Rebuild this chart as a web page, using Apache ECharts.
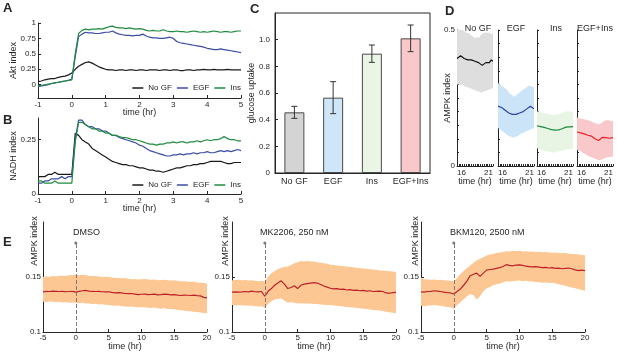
<!DOCTYPE html>
<html>
<head>
<meta charset="utf-8">
<script src="https://cdn.jsdelivr.net/npm/echarts@6/dist/echarts.min.js"></script>
<style>
  html, body { margin: 0; padding: 0; background: #fff; }
  #box { width: 617px; height: 354px; }
</style>
</head>
<body>
<div id="box"></div>
<script>
var FONT = '"Liberation Sans", Arial, Helvetica, sans-serif';
var INK = '#262626';

// ---- A / B : Akt index and NADH index, time in hours ----
var timeAB = [-1,-0.9,-0.8,-0.7,-0.6,-0.5,-0.4,-0.3,-0.2,-0.1,
  0,0.1,0.2,0.3,0.4,0.5,0.6,0.7,0.8,0.9,
  1,1.1,1.2,1.3,1.4,1.5,1.6,1.7,1.8,1.9,
  2,2.1,2.2,2.3,2.4,2.5,2.6,2.7,2.8,2.9,
  3,3.1,3.2,3.3,3.4,3.5,3.6,3.7,3.8,3.9,
  4,4.1,4.2,4.3,4.4,4.5,4.6,4.7,4.8,4.9,5];
var abNames = ['No GF', 'EGF', 'Ins'];
var abColors = ['#1a1a1a', '#3b4ea6', '#1f8c3f'];

var aktNoGF = [0.05,0.06,0.08,0.09,0.10,0.10,0.12,0.13,0.14,0.16,
  0.19,0.25,0.30,0.33,0.36,0.37,0.35,0.32,0.29,0.27,
  0.25,0.24,0.24,0.23,0.24,0.24,0.23,0.24,0.24,0.23,
  0.24,0.24,0.23,0.24,0.24,0.24,0.23,0.24,0.24,0.23,
  0.24,0.24,0.23,0.23,0.24,0.24,0.23,0.24,0.24,0.25,
  0.24,0.24,0.25,0.24,0.24,0.24,0.25,0.24,0.24,0.24,0.24];
var aktEGF = [-0.03,-0.02,-0.01,0.00,0.02,0.03,0.04,0.05,0.06,0.07,
  0.09,0.45,0.78,0.82,0.85,0.84,0.84,0.83,0.83,0.84,
  0.85,0.85,0.87,0.84,0.82,0.81,0.80,0.80,0.79,0.80,
  0.80,0.82,0.79,0.77,0.76,0.76,0.75,0.75,0.76,0.77,
  0.75,0.70,0.68,0.67,0.66,0.65,0.64,0.63,0.62,0.61,
  0.59,0.58,0.57,0.57,0.58,0.57,0.56,0.55,0.54,0.53,0.52];
var aktIns = [-0.02,-0.01,0.00,0.01,0.02,0.03,0.04,0.05,0.06,0.07,
  0.08,0.50,0.83,0.88,0.90,0.89,0.90,0.90,0.91,0.90,
  0.92,0.94,0.95,0.93,0.92,0.92,0.91,0.92,0.91,0.90,
  0.91,0.90,0.88,0.87,0.88,0.87,0.87,0.89,0.87,0.86,
  0.86,0.87,0.86,0.86,0.85,0.86,0.87,0.86,0.85,0.86,
  0.85,0.86,0.87,0.86,0.85,0.86,0.86,0.85,0.86,0.87,0.87];

var nadhNoGF = [0.08,0.08,0.08,0.09,0.09,0.10,0.09,0.09,0.09,0.09,
  0.09,0.28,0.27,0.25,0.24,0.23,0.21,0.20,0.19,0.18,
  0.17,0.16,0.15,0.145,0.14,0.135,0.135,0.13,0.13,0.125,
  0.12,0.12,0.115,0.11,0.11,0.105,0.105,0.10,0.105,0.11,
  0.115,0.12,0.12,0.125,0.13,0.13,0.135,0.135,0.14,0.14,
  0.145,0.15,0.15,0.15,0.15,0.145,0.14,0.14,0.145,0.145,0.145];
var nadhEGF = [0.05,0.05,0.06,0.06,0.07,0.07,0.07,0.08,0.07,0.08,
  0.08,0.25,0.34,0.34,0.32,0.31,0.31,0.30,0.30,0.29,
  0.29,0.28,0.27,0.27,0.26,0.255,0.25,0.245,0.24,0.235,
  0.225,0.22,0.21,0.20,0.195,0.19,0.185,0.18,0.175,0.175,
  0.18,0.18,0.185,0.18,0.185,0.185,0.19,0.185,0.19,0.19,
  0.195,0.19,0.19,0.195,0.20,0.195,0.20,0.195,0.20,0.205,0.20];
var nadhIns = [0.06,0.06,0.05,0.05,0.05,0.06,0.05,0.05,0.05,0.05,
  0.05,0.24,0.33,0.33,0.32,0.31,0.30,0.30,0.29,0.29,
  0.28,0.28,0.27,0.27,0.265,0.26,0.26,0.255,0.25,0.25,
  0.245,0.24,0.235,0.23,0.23,0.225,0.23,0.23,0.235,0.235,
  0.24,0.235,0.24,0.24,0.235,0.24,0.24,0.245,0.24,0.245,
  0.25,0.245,0.25,0.25,0.255,0.265,0.255,0.25,0.25,0.245,0.245];

// ---- C : glucose uptake ----
var glucoseCats = ['No GF', 'EGF', 'Ins', 'EGF+Ins'];
var glucoseMean = [0.455, 0.565, 0.895, 1.01];
var glucoseErr = [0.045, 0.12, 0.065, 0.10];
var glucoseColors = ['#d4d4d4', '#cfe6f8', '#eaf5e6', '#f8c8ca'];

// ---- D : AMPK index 16-21 hr ----
var timeD = [16,16.25,16.5,16.75,17,17.25,17.5,17.75,18,18.25,18.5,18.75,19,19.25,19.5,19.75,20,20.25,20.5,20.75,21];
var dTitles = ['No GF', 'EGF', 'Ins', 'EGF+Ins'];
var dLineColors = ['#111111', '#2e44a0', '#1a8a3e', '#e4232b'];
var dBandColors = ['#dedede', '#cbe4f8', '#e8f4e4', '#f8c8cb'];

var ampkNoGF   = [0.395,0.40,0.405,0.40,0.395,0.39,0.39,0.385,0.39,0.39,0.385,0.385,0.38,0.375,0.37,0.375,0.38,0.385,0.38,0.39,0.385];
var ampkNoGFHi = [0.50,0.50,0.50,0.50,0.495,0.49,0.49,0.485,0.48,0.475,0.47,0.475,0.47,0.48,0.485,0.49,0.49,0.49,0.49,0.485,0.485];
var ampkNoGFLo = [0.30,0.30,0.295,0.30,0.295,0.29,0.29,0.285,0.285,0.28,0.28,0.275,0.275,0.27,0.27,0.275,0.275,0.28,0.28,0.285,0.285];
var ampkEGF    = [0.22,0.22,0.215,0.21,0.205,0.20,0.195,0.19,0.19,0.185,0.19,0.19,0.195,0.19,0.20,0.20,0.21,0.215,0.22,0.215,0.21];
var ampkEGFHi  = [0.305,0.30,0.295,0.29,0.285,0.28,0.27,0.265,0.26,0.255,0.26,0.265,0.27,0.275,0.28,0.285,0.29,0.295,0.295,0.29,0.29];
var ampkEGFLo  = [0.14,0.135,0.13,0.125,0.12,0.115,0.11,0.108,0.105,0.105,0.108,0.11,0.115,0.12,0.12,0.125,0.13,0.13,0.135,0.138,0.138];
var ampkIns    = [0.148,0.147,0.145,0.143,0.142,0.14,0.138,0.136,0.134,0.133,0.132,0.134,0.133,0.135,0.137,0.14,0.143,0.145,0.144,0.146,0.145];
var ampkInsHi  = [0.2,0.2,0.198,0.195,0.195,0.193,0.19,0.19,0.188,0.187,0.188,0.19,0.19,0.192,0.195,0.197,0.2,0.2,0.2,0.2,0.2];
var ampkInsLo  = [0.065,0.063,0.06,0.058,0.056,0.055,0.053,0.052,0.05,0.05,0.05,0.052,0.053,0.055,0.056,0.058,0.06,0.062,0.062,0.063,0.063];
var ampkBoth   = [0.125,0.125,0.122,0.12,0.118,0.116,0.113,0.112,0.11,0.106,0.10,0.096,0.094,0.095,0.105,0.108,0.104,0.102,0.102,0.103,0.104];
var ampkBothHi = [0.178,0.176,0.175,0.174,0.172,0.17,0.168,0.166,0.164,0.16,0.158,0.155,0.153,0.155,0.16,0.165,0.168,0.168,0.167,0.165,0.165];
var ampkBothLo = [0.06,0.058,0.055,0.05,0.046,0.042,0.038,0.035,0.032,0.03,0.027,0.024,0.022,0.022,0.025,0.028,0.03,0.032,0.033,0.034,0.035];

// ---- E : AMPK index after drug, -5..20 hr ----
var timeE = [-5,-4.5,-4,-3.5,-3,-2.5,-2,-1.5,-1,-0.5,
  0,0.5,1,1.5,2,2.5,3,3.5,4,4.5,
  5,5.5,6,6.5,7,7.5,8,8.5,9,9.5,
  10,10.5,11,11.5,12,12.5,13,13.5,14,14.5,
  15,15.5,16,16.5,17,17.5,18,18.5,19,19.5,20];
var eLabels = ['DMSO', 'MK2206, 250 nM', 'BKM120, 2500 nM'];
var treatTime = 0;
var markerTop = 0.181;

var dmso = [0.1365,0.137,0.1368,0.1372,0.137,0.1368,0.137,0.1366,0.1368,0.137,
  0.1362,0.137,0.1375,0.1378,0.1372,0.137,0.1368,0.137,0.1366,0.1364,
  0.1366,0.136,0.1356,0.1358,0.1355,0.135,0.1348,0.135,0.1345,0.134,
  0.1343,0.1345,0.134,0.1342,0.1345,0.1338,0.134,0.1345,0.1342,0.1338,
  0.134,0.1335,0.1332,0.1335,0.1334,0.1332,0.1336,0.133,0.1328,0.1315,0.131];
var dmsoHi = [0.150,0.1505,0.1502,0.151,0.1505,0.1508,0.1512,0.151,0.1515,0.1518,
  0.152,0.1515,0.152,0.1518,0.151,0.1508,0.151,0.1505,0.150,0.1502,
  0.150,0.1495,0.1492,0.149,0.1488,0.149,0.1485,0.148,0.1482,0.1478,
  0.148,0.1482,0.1478,0.1475,0.1478,0.147,0.1472,0.1475,0.147,0.1468,
  0.147,0.1465,0.146,0.1462,0.1458,0.1455,0.1458,0.145,0.1448,0.1445,0.1442];
var dmsoLo = [0.1275,0.1272,0.1278,0.1274,0.127,0.1272,0.1268,0.127,0.1266,0.1268,
  0.1265,0.1262,0.1265,0.126,0.1258,0.1255,0.1256,0.125,0.1252,0.1248,
  0.1245,0.1242,0.1238,0.124,0.1235,0.1232,0.123,0.1232,0.1228,0.1225,
  0.1224,0.1226,0.122,0.1218,0.1222,0.1215,0.1212,0.1215,0.121,0.1208,
  0.1206,0.12,0.1198,0.1195,0.119,0.1188,0.1185,0.1182,0.1178,0.1172,0.117];

var mk = [0.1362,0.1365,0.1363,0.1365,0.1368,0.1365,0.1372,0.1366,0.1364,0.1368,
  0.1325,0.137,0.1395,0.1425,0.1445,0.1465,0.1435,0.1395,0.1405,0.142,
  0.1395,0.1425,0.1435,0.144,0.1445,0.1448,0.1445,0.1432,0.1418,0.1408,
  0.1398,0.1392,0.1395,0.1388,0.139,0.1382,0.1385,0.1378,0.138,0.1375,
  0.1378,0.1372,0.1375,0.1368,0.137,0.1372,0.1368,0.1355,0.1352,0.1358,0.136];
var mkHi = [0.147,0.1472,0.1475,0.147,0.1472,0.1468,0.147,0.1465,0.1462,0.1465,
  0.146,0.1505,0.1535,0.1555,0.157,0.1585,0.159,0.1595,0.161,0.1625,
  0.1635,0.1645,0.1642,0.1645,0.164,0.1642,0.1635,0.163,0.1625,0.162,
  0.1612,0.161,0.1605,0.16,0.1598,0.1595,0.159,0.1588,0.1585,0.158,
  0.1578,0.1575,0.157,0.1568,0.1565,0.156,0.1558,0.1555,0.1552,0.155,0.1545];
var mkLo = [0.1245,0.1242,0.1245,0.124,0.1242,0.1238,0.124,0.1235,0.1232,0.1235,
  0.122,0.1255,0.128,0.1295,0.13,0.1305,0.1285,0.1265,0.127,0.1265,
  0.126,0.1262,0.1258,0.126,0.1258,0.1255,0.1255,0.125,0.1248,0.1245,
  0.1245,0.124,0.1238,0.1235,0.1232,0.1228,0.1225,0.1222,0.1218,0.1215,
  0.1212,0.121,0.1205,0.12,0.1198,0.1195,0.119,0.1185,0.118,0.1175,0.117];

var bkm = [0.1365,0.1362,0.1368,0.137,0.1375,0.1372,0.1368,0.1362,0.1358,0.1355,
  0.1345,0.1368,0.139,0.1425,0.1462,0.1512,0.1525,0.1535,0.1505,0.1535,
  0.1562,0.1568,0.1572,0.1578,0.1585,0.1595,0.1612,0.1605,0.1602,0.1608,
  0.161,0.1605,0.1598,0.1595,0.1592,0.1595,0.159,0.1585,0.1588,0.1582,
  0.1585,0.1578,0.158,0.1575,0.1578,0.1582,0.1575,0.1565,0.1558,0.1562,0.1558];
var bkmHi = [0.1495,0.148,0.1478,0.1475,0.1478,0.1472,0.1475,0.147,0.1468,0.1465,
  0.1462,0.149,0.1525,0.1555,0.158,0.1605,0.163,0.165,0.1665,0.168,
  0.1695,0.1705,0.171,0.1718,0.1722,0.1728,0.1735,0.1732,0.1738,0.1735,
  0.1738,0.1732,0.1735,0.173,0.1732,0.1728,0.173,0.1725,0.1728,0.1722,
  0.172,0.1722,0.1718,0.1715,0.1718,0.1712,0.171,0.1708,0.1705,0.17,0.1698];
var bkmLo = [0.1238,0.1235,0.124,0.1242,0.1245,0.1242,0.1238,0.1232,0.1228,0.1225,
  0.1212,0.1245,0.127,0.1298,0.1325,0.1345,0.1335,0.1295,0.1325,0.137,
  0.1395,0.141,0.1425,0.1435,0.1442,0.145,0.1462,0.1458,0.1462,0.1465,
  0.1468,0.1462,0.1465,0.146,0.1458,0.1455,0.1452,0.1448,0.145,0.1445,
  0.1448,0.144,0.1435,0.1428,0.142,0.1412,0.1405,0.1398,0.139,0.1382,0.1375];

// ---------------------------------------------------------------
var box = document.getElementById('box');
var myChart = echarts.init(box, null, { renderer: 'canvas' });

function pairs(xs, ys) {
  return xs.map(function (x, i) { return [x, ys[i]]; });
}

function extend(a, b) {
  for (var k in b) {
    if (b[k] && typeof b[k] === 'object' && !Array.isArray(b[k]) && a[k] && typeof a[k] === 'object') {
      extend(a[k], b[k]);
    } else {
      a[k] = b[k];
    }
  }
  return a;
}

function axisBase(g) {
  return {
    gridIndex: g, type: 'value',
    splitLine: { show: false },
    axisLine: { show: true, onZero: false, lineStyle: { color: INK, width: 1 } },
    axisTick: { show: true, inside: true, length: 3, lineStyle: { color: INK } },
    axisLabel: { fontFamily: FONT, fontSize: 8, color: INK, margin: 3 },
    nameLocation: 'middle',
    nameMoveOverlap: false,
    nameTextStyle: { fontFamily: FONT, fontSize: 9, color: INK }
  };
}

function lineSeries(name, g, xs, ys, color) {
  var s = {
    type: 'line', xAxisIndex: g, yAxisIndex: g,
    data: pairs(xs, ys), symbol: 'none', showSymbol: false,
    lineStyle: { color: color, width: 1.2 }, itemStyle: { color: color },
    silent: true, z: 3
  };
  if (name) s.name = name;
  return s;
}

// shaded band: one polygon through the upper edge and back along the lower edge
function bandSeries(g, xs, lo, hi, color) {
  return {
    type: 'custom', xAxisIndex: g, yAxisIndex: g, silent: true, z: 1,
    data: [[xs[0], lo[0]]],
    renderItem: function (params, api) {
      var pts = [];
      for (var i = 0; i < xs.length; i++) pts.push(api.coord([xs[i], hi[i]]));
      for (var j = xs.length - 1; j >= 0; j--) pts.push(api.coord([xs[j], lo[j]]));
      return { type: 'polygon', shape: { points: pts }, style: { fill: color } };
    }
  };
}

var dLefts = [457, 498, 537, 577];
var eLefts = [43, 232, 421];

var grids = [
  { left: 38, top: 23, width: 203, height: 75 },
  { left: 38, top: 118, width: 203, height: 76 },
  { left: 275, top: 13, width: 155, height: 160, show: true, borderColor: INK, borderWidth: 1, backgroundColor: '#fff' }
];
dLefts.forEach(function (l) { grids.push({ left: l, top: 30, width: 36, height: 136 }); });
eLefts.forEach(function (l) { grids.push({ left: l, top: 222, width: 164, height: 110 }); });

var xAxes = [
  extend(axisBase(0), { min: -1, max: 5, interval: 1, name: 'time (hr)', nameGap: 10 }),
  extend(axisBase(1), { min: -1, max: 5, interval: 1, name: 'time (hr)', nameGap: 10 }),
  extend(axisBase(2), { type: 'category', data: glucoseCats,
    axisTick: { alignWithLabel: true }, axisLabel: { fontSize: 9, margin: 4, interval: 0 } })
];
dLefts.forEach(function (l, i) {
  xAxes.push(extend(axisBase(3 + i), { min: 16, max: 21, interval: 0.25,
    axisTick: { length: 2 },
    axisLabel: { customValues: [16, 21], margin: 3, alignMinLabel: 'left', alignMaxLabel: 'right' },
    name: 'time (hr)', nameGap: 11 }));
});
eLefts.forEach(function (l, i) {
  xAxes.push(extend(axisBase(7 + i), { min: -5, max: 20, interval: 5,
    axisLabel: { margin: 2 }, name: 'time (hr)', nameGap: 10 }));
});

var aktTicks = [0, 0.25, 0.5, 0.75, 1];
var glucoseTicks = [0, 0.2, 0.4, 0.6, 0.8, 1.0];
var yAxes = [
  extend(axisBase(0), { min: -0.215, max: 1, axisLabel: { customValues: aktTicks, margin: 2 },
    axisTick: { customValues: aktTicks }, name: 'Akt index', nameGap: 20 }),
  extend(axisBase(1), { min: 0, max: 0.35, axisLabel: { customValues: [0, 0.25], margin: 2 },
    axisTick: { customValues: [0, 0.25] }, name: 'NADH index', nameGap: 20 }),
  extend(axisBase(2), { min: 0, max: 1.2,
    axisLabel: { customValues: glucoseTicks, margin: 5,
      formatter: function (v) { return v === 0 ? '0' : v.toFixed(1); } },
    axisTick: { customValues: glucoseTicks }, name: 'glucose uptake', nameGap: 19 })
];
dLefts.forEach(function (l, i) {
  var ax = extend(axisBase(3 + i), { min: 0, max: 0.5, interval: 0.05, axisTick: { length: 2 } });
  if (i === 0) {
    extend(ax, { axisLabel: { customValues: [0, 0.5], margin: 2 }, name: 'AMPK index', nameGap: 5 });
  } else {
    ax.axisLabel.show = false;
  }
  yAxes.push(ax);
});
eLefts.forEach(function (l, i) {
  yAxes.push(extend(axisBase(7 + i), { min: 0.1, max: 0.2,
    axisLabel: { customValues: [0.1, 0.15], margin: 2 },
    axisTick: { customValues: [0.1, 0.15] } }));
});

var series = [];
[aktNoGF, aktEGF, aktIns].forEach(function (ys, i) {
  series.push(lineSeries(abNames[i], 0, timeAB, ys, abColors[i]));
});
[nadhNoGF, nadhEGF, nadhIns].forEach(function (ys, i) {
  series.push(lineSeries(abNames[i], 1, timeAB, ys, abColors[i]));
});

series.push({
  type: 'bar', xAxisIndex: 2, yAxisIndex: 2, barWidth: 20, silent: true,
  data: glucoseMean.map(function (v, i) { return { value: v, itemStyle: { color: glucoseColors[i] } }; }),
  itemStyle: { borderColor: '#4a4a4a', borderWidth: 1 }
});
series.push({
  type: 'custom', xAxisIndex: 2, yAxisIndex: 2, silent: true, z: 5,
  encode: { x: 0, y: [1, 2] },
  data: glucoseMean.map(function (v, i) { return [i, v - glucoseErr[i], v + glucoseErr[i]]; }),
  renderItem: function (params, api) {
    var lo = api.coord([api.value(0), api.value(1)]);
    var hi = api.coord([api.value(0), api.value(2)]);
    var hw = 3;
    var st = { stroke: '#333', lineWidth: 1 };
    return { type: 'group', children: [
      { type: 'line', shape: { x1: lo[0], y1: lo[1], x2: hi[0], y2: hi[1] }, style: st },
      { type: 'line', shape: { x1: lo[0] - hw, y1: lo[1], x2: lo[0] + hw, y2: lo[1] }, style: st },
      { type: 'line', shape: { x1: hi[0] - hw, y1: hi[1], x2: hi[0] + hw, y2: hi[1] }, style: st }
    ] };
  }
});

var dSets = [
  [ampkNoGF, ampkNoGFLo, ampkNoGFHi],
  [ampkEGF, ampkEGFLo, ampkEGFHi],
  [ampkIns, ampkInsLo, ampkInsHi],
  [ampkBoth, ampkBothLo, ampkBothHi]
];
dSets.forEach(function (s, i) {
  series.push(bandSeries(3 + i, timeD, s[1], s[2], dBandColors[i]));
  series.push(lineSeries(null, 3 + i, timeD, s[0], dLineColors[i]));
});

var eSets = [[dmso, dmsoLo, dmsoHi], [mk, mkLo, mkHi], [bkm, bkmLo, bkmHi]];
eSets.forEach(function (s, i) {
  series.push(bandSeries(7 + i, timeE, s[1], s[2], '#fcc793'));
  var ln = lineSeries(null, 7 + i, timeE, s[0], '#bd2229');
  ln.markLine = {
    silent: true, symbol: ['none', 'circle'], symbolSize: 3,
    lineStyle: { type: 'dashed', color: '#7a7a7a', width: 1 },
    label: { show: false },
    data: [[{ coord: [treatTime, 0.1] }, { coord: [treatTime, markerTop] }]]
  };
  series.push(ln);
});

var txt = { fontFamily: FONT, fill: INK };
var graphic = [];
[['A', 3, 8], ['B', 3, 120], ['C', 250, 9], ['D', 445, 11], ['E', 3, 242]].forEach(function (p) {
  graphic.push({ type: 'text', x: p[1], y: p[2], style: extend({ text: p[0], fontSize: 13, fontWeight: 'bold',
    align: 'left', verticalAlign: 'middle' }, txt) });
});
[478, 516, 556, 595].forEach(function (cx, i) {
  graphic.push({ type: 'text', x: cx, y: 29, style: extend({ text: dTitles[i], fontSize: 9,
    align: 'center', verticalAlign: 'middle' }, txt) });
});
[73, 260, 450].forEach(function (lx, i) {
  graphic.push({ type: 'text', x: lx, y: 233, style: extend({ text: eLabels[i], fontSize: 9,
    align: 'left', verticalAlign: 'middle' }, txt) });
});
[35, 226, 416].forEach(function (cx) {
  graphic.push({ type: 'text', x: cx, y: 241, rotation: Math.PI / 2, style: extend({ text: 'AMPK index', fontSize: 9,
    align: 'center', verticalAlign: 'middle' }, txt) });
});

function legendAt(top) {
  return {
    right: 376, top: top, orient: 'horizontal', padding: 0, itemGap: 5,
    itemWidth: 11, itemHeight: 1.5, icon: 'rect', selectedMode: false,
    textStyle: { fontFamily: FONT, fontSize: 8, color: INK },
    data: abNames
  };
}

var option = {
  animation: false,
  backgroundColor: '#fff',
  textStyle: { fontFamily: FONT },
  grid: grids,
  xAxis: xAxes,
  yAxis: yAxes,
  legend: [legendAt(84), legendAt(181)],
  graphic: graphic,
  series: series
};

myChart.setOption(option);
</script>
</body>
</html>
